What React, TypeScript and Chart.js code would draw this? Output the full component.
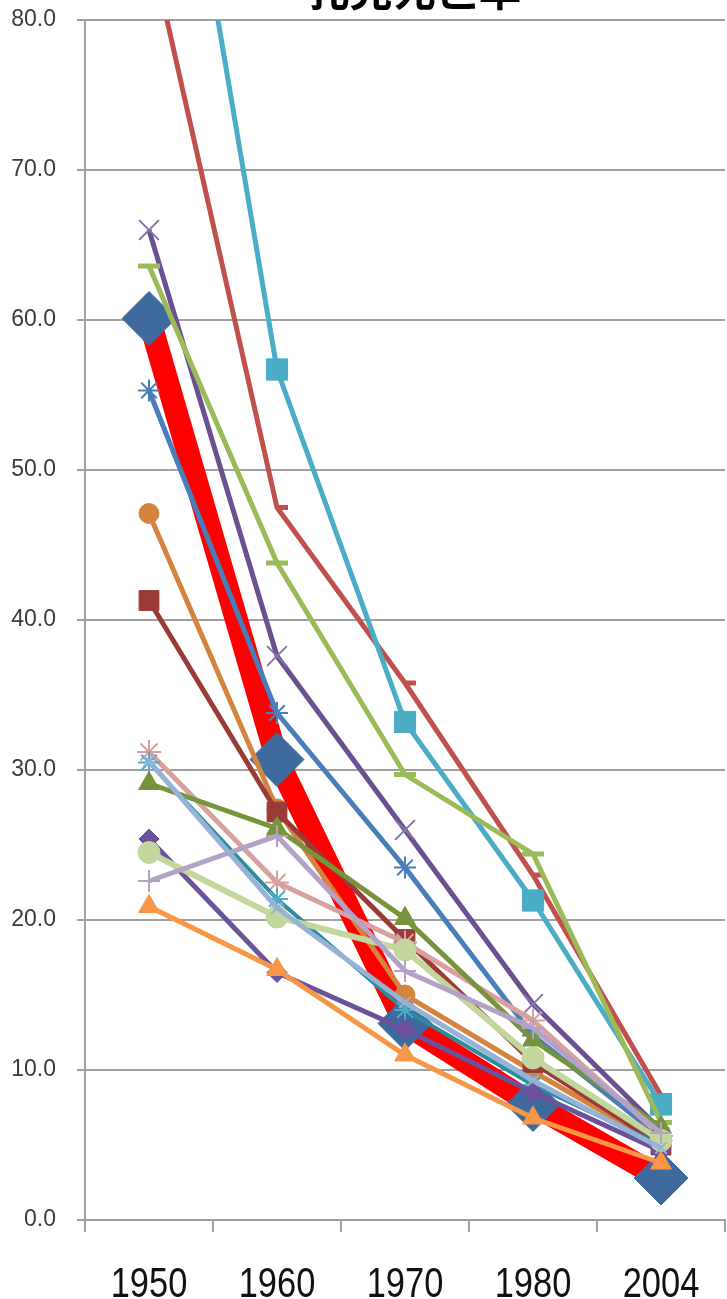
import React, { useEffect, useRef } from 'react';
import { Chart, registerables } from 'chart.js';

Chart.register(...registerables);

const titleText = '乳児死亡率';
const categories = ['1950', '1960', '1970', '1980', '2004'];

const japan = [60.1, 30.7, 13.1, 7.7, 2.8];
const seriesB = [85.3, 47.5, 35.8, 23.0, 8.3];
const seriesC = [107.2, 56.7, 33.2, 21.3, 7.7];
const seriesD = [66.0, 37.6, 26.0, 14.4, 6.0];
const seriesE = [63.6, 43.8, 29.7, 24.4, 6.5];
const seriesF = [55.3, 33.8, 23.5, 12.3, 5.5];
const seriesG = [47.1, 27.4, 15.0, 9.9, 5.0];
const seriesH = [41.3, 27.2, 18.7, 10.5, 5.0];
const seriesI = [31.2, 22.5, 18.5, 13.3, 5.6];
const seriesJ = [30.5, 21.4, 14.0, 9.0, 5.0];
const seriesK = [29.1, 26.1, 20.1, 12.0, 6.2];
const seriesL = [25.4, 16.5, 12.7, 8.5, 4.6];
const seriesM = [24.5, 20.2, 18.0, 10.8, 5.3];
const seriesN = [22.6, 25.6, 16.6, 12.8, 5.8];
const seriesO = [20.9, 16.7, 11.0, 6.8, 3.8];
const seriesP = [30.6, 20.8, 14.5, 9.3, 4.8];

type S = {
  data: number[];
  color: string;
  markerColor?: string;
  style: string;
  radius: number;
  lineWidth: number;
  markerBorder: number;
};

const seriesList: S[] = [
  { data: japan, color: '#FF0000', markerColor: '#3F6A9E', style: 'rectRot', radius: 27, lineWidth: 23, markerBorder: 1 },
  { data: seriesB, color: '#C0504D', style: 'dash', radius: 11, lineWidth: 5, markerBorder: 5 },
  { data: seriesC, color: '#4BACC6', style: 'rect', radius: 15, lineWidth: 5, markerBorder: 1 },
  { data: seriesD, color: '#6A5090', markerColor: '#8B74AD', style: 'crossRot', radius: 14, lineWidth: 5, markerBorder: 2 },
  { data: seriesE, color: '#9BBB59', style: 'line', radius: 11, lineWidth: 5, markerBorder: 5 },
  { data: seriesF, color: '#4A7EBB', style: 'star', radius: 11, lineWidth: 5, markerBorder: 2 },
  { data: seriesG, color: '#D4843E', style: 'circle', radius: 10, lineWidth: 5, markerBorder: 1 },
  { data: seriesH, color: '#9A3B38', style: 'rect', radius: 14, lineWidth: 5, markerBorder: 1 },
  { data: seriesI, color: '#D9A0A0', style: 'star', radius: 12, lineWidth: 5, markerBorder: 2 },
  { data: seriesJ, color: '#2E8A9E', markerColor: '#4BACC6', style: 'star', radius: 11, lineWidth: 4, markerBorder: 2 },
  { data: seriesK, color: '#77933C', style: 'triangle', radius: 12, lineWidth: 5, markerBorder: 1 },
  { data: seriesL, color: '#6B529B', style: 'rectRot', radius: 10, lineWidth: 5, markerBorder: 1 },
  { data: seriesM, color: '#C3D69B', style: 'circle', radius: 11, lineWidth: 6, markerBorder: 1 },
  { data: seriesN, color: '#B3A2C7', style: 'cross', radius: 11, lineWidth: 5, markerBorder: 2 },
  { data: seriesO, color: '#F79646', style: 'triangle', radius: 12, lineWidth: 5, markerBorder: 1 },
  { data: seriesP, color: '#95B3D7', style: 'crossRot', radius: 8, lineWidth: 5, markerBorder: 2 },
];

const textPlugin = {
  id: 'textPlugin',
  afterDraw(chart: any) {
    const ctx = chart.ctx;
    ctx.save();
    ctx.font = 'bold 43px "Noto Sans CJK JP", sans-serif';
    ctx.fillStyle = '#000000';
    ctx.textAlign = 'center';
    ctx.textBaseline = 'alphabetic';
    ctx.fillText(titleText, 414, 6);
    ctx.restore();

    const xs = chart.scales.x;
    const baseY = chart.chartArea.bottom + 77;
    categories.forEach((c, i) => {
      const px = xs.getPixelForValue(i);
      ctx.save();
      ctx.translate(px, baseY);
      ctx.scale(0.82, 1);
      ctx.font = '42px "Liberation Sans", sans-serif';
      ctx.fillStyle = '#111111';
      ctx.textAlign = 'center';
      ctx.textBaseline = 'alphabetic';
      ctx.fillText(c, 0, 0);
      ctx.restore();
    });
  },
};

const zeroPad = (s: any) => {
  s.paddingTop = 0;
  s.paddingBottom = 0;
  s.paddingLeft = 0;
  s.paddingRight = 0;
};

export default function App() {
  const ref = useRef<HTMLCanvasElement | null>(null);

  useEffect(() => {
    if (!ref.current) return;
    const datasets = seriesList.map((s, i) => ({
      label: 'S' + i,
      data: s.data,
      borderColor: s.color,
      backgroundColor: s.color,
      borderWidth: s.lineWidth,
      pointStyle: s.style as any,
      pointRadius: s.radius,
      pointHoverRadius: s.radius,
      pointBackgroundColor: s.markerColor || s.color,
      pointBorderColor: s.markerColor || s.color,
      pointBorderWidth: s.markerBorder,
      tension: 0,
      fill: false,
      order: -i,
    }));
    const chart = new Chart(ref.current, {
      type: 'line',
      data: { labels: categories, datasets },
      plugins: [textPlugin],
      options: {
        animation: false,
        responsive: false,
        maintainAspectRatio: false,
        devicePixelRatio: 1,
        layout: { autoPadding: false, padding: { top: 20, left: 0, right: 2, bottom: 0 } },
        plugins: {
          legend: { display: false },
          title: { display: false },
          tooltip: { enabled: false },
        },
        scales: {
          x: {
            type: 'category',
            offset: true,
            grid: {
              display: true,
              drawOnChartArea: false,
              drawTicks: true,
              tickLength: 12,
              offset: true,
              color: '#a0a0a0',
              lineWidth: 2,
            },
            border: { display: true, color: '#a0a0a0', width: 2 },
            ticks: { display: false, autoSkip: false, maxRotation: 0 },
            afterFit: (s: any) => {
              s.height = 79;
              zeroPad(s);
            },
          },
          y: {
            min: 0,
            max: 80,
            ticks: {
              stepSize: 10,
              callback: (v: any) => Number(v).toFixed(1),
              font: { family: '"Liberation Sans", sans-serif', size: 23 },
              color: '#3a3a3a',
              padding: 21,
            },
            grid: { color: '#a0a0a0', lineWidth: 2, tickLength: 8, drawTicks: true },
            border: { display: true, color: '#a0a0a0', width: 2 },
            afterFit: (s: any) => {
              s.width = 85;
              zeroPad(s);
            },
          },
        },
      },
    });
    return () => chart.destroy();
  }, []);

  return (
    <div style={{ position: 'absolute', left: 0, top: 0, width: 727, height: 1299, background: '#ffffff' }}>
      <canvas ref={ref} width={727} height={1299} style={{ width: 727, height: 1299, display: 'block' }} />
    </div>
  );
}
